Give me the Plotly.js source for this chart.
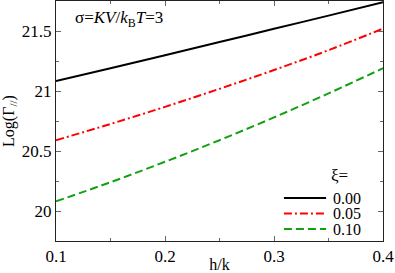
<!DOCTYPE html>
<html><head><meta charset="utf-8">
<script src="https://cdn.plot.ly/plotly-3.0.1.min.js"></script>
<style>html,body{margin:0;padding:0;background:#fff}#c{width:395px;height:273px}</style>
</head><body><div id="c"></div>
<script>
const hk = [0.10, 0.15, 0.20, 0.25, 0.30, 0.35, 0.40];
const xi000 = [21.083, 21.19, 21.298, 21.408, 21.518, 21.628, 21.74];
const xi005 = [20.59, 20.725, 20.868, 21.018, 21.175, 21.34, 21.52];
const xi010 = [20.08, 20.24, 20.41, 20.59, 20.78, 20.98, 21.19];
const seriesNames = ["0.00", "0.05", "0.10"];
const xTicks = [0.1, 0.2, 0.3, 0.4];
const yTicks = [20, 20.5, 21, 21.5];

const font = "Liberation Serif";
const styles = [
  {color: "#000000", width: 2, dash: "solid"},
  {color: "#ff0000", width: 2, dash: "8px,3px,2px,3px"},
  {color: "#10a010", width: 2, dash: "8px,4px"}
];
const series = [xi000, xi005, xi010];
const traces = series.map((ys, i) => ({
  x: hk, y: ys, name: seriesNames[i], mode: "lines", showlegend: false,
  line: Object.assign({shape: "spline"}, styles[i])
}));
const axisCommon = {
  showgrid: false, zeroline: false, showline: true, mirror: "ticks",
  linecolor: "#222", linewidth: 1, ticks: "inside", ticklen: 5, tickcolor: "#666",
  tickfont: {family: "Liberation Serif", size: 17, color: "#000"}
};
// manual legend (key samples + labels), placed in paper coordinates
const legRowY = [0.179, 0.1146, 0.05];
const shapes = seriesNames.map((n, i) => ({
  type: "line", xref: "paper", yref: "paper", x0: 0.697, x1: 0.826, y0: legRowY[i], y1: legRowY[i],
  line: styles[i]
}));
const legAnn = seriesNames.map((n, i) => ({
  xref: "paper", yref: "paper", x: 0.842, y: legRowY[i], xanchor: "left", yanchor: "middle",
  showarrow: false, text: n, font: {family: font, size: 16}
}));
const layout = {
  width: 395, height: 273,
  margin: {l: 56, r: 12, t: 1, b: 32},
  paper_bgcolor: "#fff", plot_bgcolor: "#fff",
  font: {family: font, size: 16, color: "#000"},
  showlegend: false,
  xaxis: Object.assign({}, axisCommon, {range: [0.1, 0.4], tickvals: xTicks, ticktext: xTicks.map(v => v.toFixed(1)),
    minor: {ticks: "inside", ticklen: 3, tickcolor: "#666", dtick: 0.05, tick0: 0.1},
    title: {text: "h/k", font: {family: font, size: 16}, standoff: 4}}),
  yaxis: Object.assign({}, axisCommon, {range: [19.75, 21.75], tickvals: yTicks, ticktext: ["20", "20.5", "21", "21.5"],
    minor: {ticks: "inside", ticklen: 3, tickcolor: "#666", dtick: 0.25, tick0: 19.75},
    title: {text: "Log(Γ<sub>//</sub>)", font: {family: font, size: 16}, standoff: 6}}),
  shapes: shapes,
  annotations: [
    {xref: "paper", yref: "paper", x: 0.052, y: 0.925, xanchor: "left", yanchor: "middle", showarrow: false,
     text: "σ=<i>KV</i>/<i>k</i><sub>B</sub><i>T</i>=3", font: {family: font, size: 17}},
    {xref: "paper", yref: "paper", x: 0.836, y: 0.273, xanchor: "left", yanchor: "middle", showarrow: false,
     text: "ξ=", font: {family: font, size: 17}}
  ].concat(legAnn)
};
Plotly.newPlot("c", traces, layout, {staticPlot: true, displayModeBar: false});
</script></body></html>
